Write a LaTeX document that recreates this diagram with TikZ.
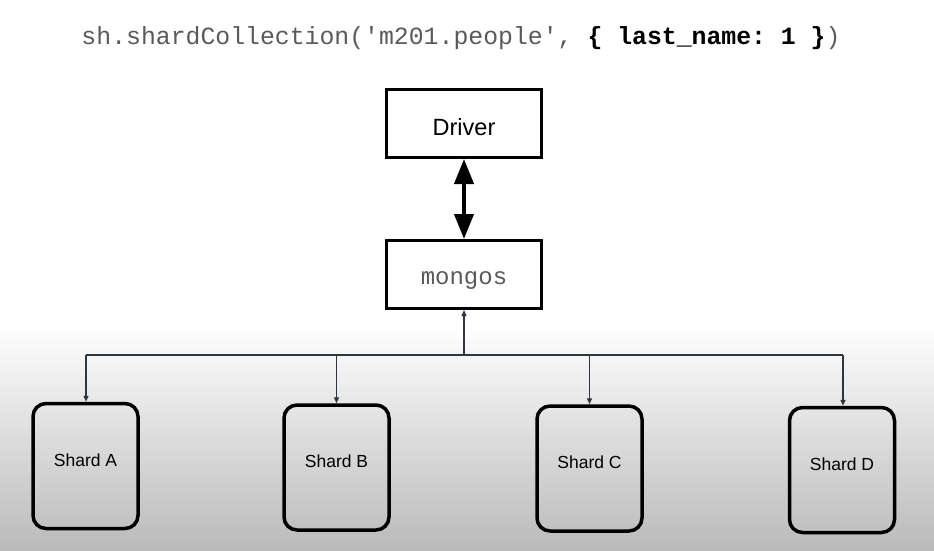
\documentclass[tikz,border=0pt]{standalone}
\usepackage{fontspec}
\setmainfont{Liberation Sans}
\setmonofont{Liberation Mono}
\usetikzlibrary{arrows.meta}
\definecolor{codegray}{RGB}{90,90,90}
\definecolor{linecol}{RGB}{45,55,65}
\definecolor{bottomgray}{RGB}{186,186,186}
\begin{document}
\begin{tikzpicture}[x=1pt,y=-1pt,
  box/.style={draw=black, line width=3pt, fill=white, minimum width=155pt, minimum height=68pt, inner sep=0pt},
  shardbox/.style={draw=black, line width=3.5pt, rounded corners=13pt, minimum width=105pt, minimum height=125pt, inner sep=0pt, text height=6pt, text depth=6pt, font=\fontsize{17.5}{20}\selectfont},
  bigarrow/.style={line width=4pt, {Triangle[length=25pt,width=19pt]}-{Triangle[length=25pt,width=19pt]}},
  thin/.style={draw=linecol, line width=1.4pt},
  smallarrow/.style={thin, -{Triangle[length=6pt,width=5pt]}}
]
\useasboundingbox (0,0) rectangle (934,550);
\fill[white] (0,0) rectangle (934,330);
\shade[top color=white, bottom color=bottomgray] (0,325) rectangle (934,550);

\node[font=\ttfamily\fontsize{24.8}{28}\selectfont, text=codegray] (title) at (461,38)
  {sh.shardCollection('m201.people', \textbf{\color{black}\{ last\_name: 1 \}})};

\node[box, text height=23.8pt, text depth=0pt, font=\fontsize{23.5}{27}\selectfont] (driver) at (464,123.5) {Driver};
\node[box, text height=19.7pt, text depth=0pt, font=\ttfamily\fontsize{24}{28}\selectfont, text=codegray] (mongos) at (464,274.5) {mongos};

\draw[bigarrow] (driver.south) -- (mongos.north);

\node[shardbox] (sA) at (85.5,466) {Shard A};
\node[shardbox] (sB) at (336.5,467.5) {Shard B};
\node[shardbox] (sC) at (589.5,468.5) {Shard C};
\node[shardbox] (sD) at (842,470) {Shard D};

\coordinate (busL) at (86,355);
\coordinate (busR) at (843,355);
\coordinate (hub) at (464,355);

\draw[thin] (busL) -- (busR);
\draw[smallarrow] (hub) -- (mongos.south);
\draw[smallarrow] (busL) -- (sA.north -| busL);
\draw[smallarrow] (sB.north |- hub) -- (sB.north);
\draw[smallarrow] (sC.north |- hub) -- (sC.north);
\draw[smallarrow] (busR) -- (sD.north -| busR);
\end{tikzpicture}
\end{document}
